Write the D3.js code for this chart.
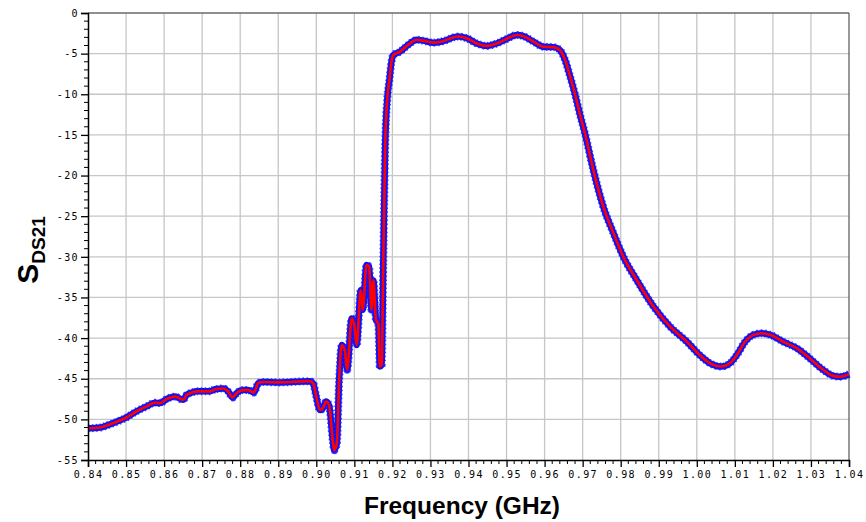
<!DOCTYPE html>
<html>
<head>
<meta charset="utf-8">
<script src="https://cdn.jsdelivr.net/npm/d3@7"></script>
<style>
  body { margin: 0; background: #fff; }
  svg { display: block; }
</style>
</head>
<body>
<div id="chart"></div>
<script>
// measured S21 response, frequency in GHz
const freq = [0.8400, 0.8432, 0.8458, 0.8500, 0.8528, 0.8554, 0.8576, 0.8589, 0.8607, 0.8629,
  0.8650, 0.8659, 0.8673, 0.8686, 0.8721, 0.8734, 0.8756, 0.8769, 0.8780, 0.8792,
  0.8808, 0.8821, 0.8836, 0.8848, 0.8861, 0.8905, 0.8983, 0.8992, 0.8999, 0.9010,
  0.9017, 0.9026, 0.9034, 0.9043, 0.9047, 0.9054, 0.9060, 0.9067, 0.9075, 0.9081,
  0.9093, 0.9100, 0.9106, 0.9117, 0.9122, 0.9132, 0.9139, 0.9145, 0.9150, 0.9157,
  0.9163, 0.9167, 0.9172, 0.9176, 0.9181, 0.9187, 0.9192, 0.9197, 0.9202, 0.9220,
  0.9242, 0.9264, 0.9281, 0.9308, 0.9330, 0.9373, 0.9395, 0.9422, 0.9448, 0.9474,
  0.9500, 0.9527, 0.9544, 0.9570, 0.9597, 0.9623, 0.9640, 0.9654, 0.9667, 0.9680,
  0.9693, 0.9706, 0.9728, 0.9754, 0.9781, 0.9807, 0.9842, 0.9886, 0.9930, 0.9973,
  1.0008, 1.0035, 1.0065, 1.0087, 1.0105, 1.0127, 1.0149, 1.0171, 1.0193, 1.0227,
  1.0263, 1.0297, 1.0332, 1.0359, 1.0376, 1.0400];
const s21 = [-51.1, -51.0, -50.6, -49.8, -49.0, -48.4, -47.95, -48.0, -47.5, -47.2,
  -47.6, -47.0, -46.7, -46.55, -46.55, -46.3, -46.2, -46.6, -47.3, -46.7,
  -46.4, -46.4, -46.7, -45.5, -45.4, -45.45, -45.3, -45.6, -47.0, -48.85,
  -48.65, -47.8, -48.35, -52.5, -53.8, -52.95, -45.2, -40.85, -41.5, -43.9,
  -37.6, -38.4, -40.85, -34.1, -36.5, -31.0, -31.2, -36.5, -32.9, -37.8,
  -38.2, -43.5, -43.3, -30.8, -16.4, -10.3, -8.3, -6.2, -5.2, -4.75,
  -3.9, -3.3, -3.4, -3.65, -3.5, -2.9, -3.1, -3.75, -4.05, -3.75,
  -3.2, -2.7, -2.85, -3.5, -4.15, -4.2, -4.55, -5.8, -7.8, -10.0,
  -12.5, -14.8, -19.3, -23.8, -27.1, -30.0, -32.85, -36.1, -38.6, -40.4,
  -42.1, -43.1, -43.5, -43.1, -42.1, -40.45, -39.6, -39.4, -39.6, -40.45,
  -41.25, -42.5, -43.9, -44.65, -44.75, -44.45];

const xTicks = [0.84, 0.85, 0.86, 0.87, 0.88, 0.89, 0.90, 0.91, 0.92, 0.93, 0.94,
  0.95, 0.96, 0.97, 0.98, 0.99, 1.00, 1.01, 1.02, 1.03, 1.04];
const yTicks = [0, -5, -10, -15, -20, -25, -30, -35, -40, -45, -50, -55];

const W = 866, H = 522;
const margin = { top: 13, right: 17, bottom: 62, left: 88 };
const width = W - margin.left - margin.right,
  height = H - margin.top - margin.bottom;

const svg = d3.select("#chart").append("svg")
  .attr("width", W)
  .attr("height", H);

const g = svg.append("g")
  .attr("transform", "translate(" + margin.left + "," + margin.top + ")");

const x = d3.scaleLinear().domain([0.84, 1.04]).range([0, width]);
const y = d3.scaleLinear().domain([-55, 0]).range([height, 0]);

// grid
g.append("g").selectAll("line")
  .data(xTicks.slice(1, -1)).enter().append("line")
    .attr("x1", d => x(d)).attr("x2", d => x(d))
    .attr("y1", 0).attr("y2", height)
    .attr("stroke", "#c6c6c6").attr("stroke-width", 1.3);
g.append("g").selectAll("line")
  .data(yTicks.slice(1, -1)).enter().append("line")
    .attr("y1", d => y(d)).attr("y2", d => y(d))
    .attr("x1", 0).attr("x2", width)
    .attr("stroke", "#c6c6c6").attr("stroke-width", 1.3);

// frame top / right
g.append("line").attr("x1", 0).attr("x2", width).attr("y1", 0).attr("y2", 0)
  .attr("stroke", "#6a6a6a").attr("stroke-width", 1.5);
g.append("line").attr("x1", width).attr("x2", width).attr("y1", 0).attr("y2", height)
  .attr("stroke", "#555").attr("stroke-width", 1.2);

// the curve: thick blue trace with red line on top
const pts = freq.map((f, i) => [f, s21[i]]);
const line = d3.line()
  .x(d => x(d[0]))
  .y(d => y(d[1]))
  .curve(d3.curveMonotoneX);

g.append("path")
  .datum(pts)
  .attr("d", line)
  .attr("fill", "none")
  .attr("stroke", "#1010f0")
  .attr("stroke-width", 6.5)
  .attr("stroke-linejoin", "round");
g.append("path")
  .datum(pts)
  .attr("d", line)
  .attr("fill", "none")
  .attr("stroke", "#1a1aff")
  .attr("stroke-width", 8)
  .attr("stroke-dasharray", "1.5,2.5")
  .attr("opacity", 0.8);
g.append("path")
  .datum(pts)
  .attr("d", line)
  .attr("fill", "none")
  .attr("stroke", "#ff0000")
  .attr("stroke-width", 2.6)
  .attr("stroke-linejoin", "round");

const tickFont = "'DejaVu Sans Mono', monospace";

// x axis
const xAxis = d3.axisBottom(x)
  .tickValues(xTicks)
  .tickSize(7)
  .tickPadding(4)
  .tickFormat(d3.format(".2f"));
const gx = g.append("g")
  .attr("transform", "translate(0," + height + ")")
  .call(xAxis);
gx.select(".domain").attr("stroke", "#000").attr("stroke-width", 1.5);
gx.selectAll(".tick line").attr("stroke", "#000").attr("stroke-width", 1.3);
gx.selectAll("text")
  .style("font-family", tickFont)
  .style("font-size", "10px")
  .style("letter-spacing", "1.4px")
  .attr("fill", "#000");

// x minor ticks
const xMinor = d3.range(0, 101).map(i => 0.84 + i * 0.002).filter((d, i) => i % 5 != 0);
g.append("g").selectAll("line")
  .data(xMinor).enter().append("line")
    .attr("x1", d => x(d)).attr("x2", d => x(d))
    .attr("y1", height).attr("y2", height + 4)
    .attr("stroke", "#000").attr("stroke-width", 1);

// y axis
const yAxis = d3.axisLeft(y)
  .tickValues(yTicks)
  .tickSize(7)
  .tickPadding(2)
  .tickFormat(d => d == 0 ? "0" : "-" + Math.abs(d));
const gy = g.append("g").call(yAxis);
gy.select(".domain").attr("stroke", "#000").attr("stroke-width", 1.5);
gy.selectAll(".tick line").attr("stroke", "#000").attr("stroke-width", 1.3);
gy.selectAll("text")
  .style("font-family", tickFont)
  .style("font-size", "10px")
  .style("letter-spacing", "1.4px")
  .attr("fill", "#000");

const yMinor = d3.range(-55, 1).filter(d => d % 5 != 0);
g.append("g").selectAll("line")
  .data(yMinor).enter().append("line")
    .attr("y1", d => y(d)).attr("y2", d => y(d))
    .attr("x1", -4).attr("x2", 0)
    .attr("stroke", "#000").attr("stroke-width", 1);

// axis titles
svg.append("text")
  .attr("x", 462)
  .attr("y", 514)
  .attr("text-anchor", "middle")
  .style("font-family", "'Liberation Sans', Arial, sans-serif")
  .style("font-weight", "bold")
  .style("font-size", "24.5px")
  .text("Frequency (GHz)");

const ylab = svg.append("text")
  .attr("transform", "translate(38,250) rotate(-90)")
  .attr("text-anchor", "middle")
  .style("font-family", "'Liberation Sans', Arial, sans-serif")
  .style("font-weight", "bold");
ylab.append("tspan").style("font-size", "30px").text("S");
ylab.append("tspan").style("font-size", "19px").attr("dy", 7).text("DS21");
</script>
</body>
</html>
